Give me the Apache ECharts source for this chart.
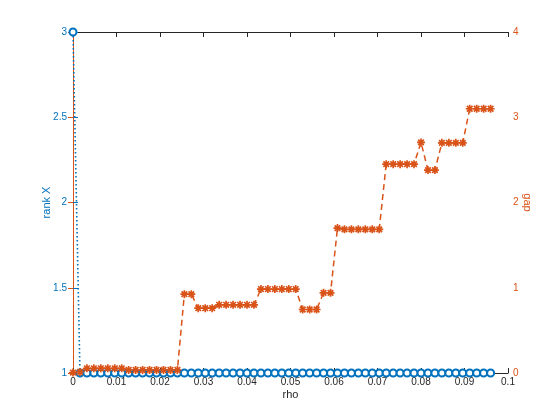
<!DOCTYPE html>
<html>
<head>
<meta charset="utf-8">
<script src="https://cdn.jsdelivr.net/npm/echarts@6/dist/echarts.min.js"></script>
<style>
html, body { margin: 0; padding: 0; background: #fff; }
#main { width: 560px; height: 420px; }
</style>
</head>
<body>
<div id="main"></div>
<script>
// rho values (x)
var rho = [0, 0.0016, 0.0032, 0.0048, 0.0064, 0.008, 0.0096, 0.0112, 0.0128, 0.0144,
    0.016, 0.0176, 0.0192, 0.0208, 0.0224, 0.024, 0.0256, 0.0272, 0.0288, 0.0304,
    0.032, 0.0336, 0.0352, 0.0368, 0.0384, 0.04, 0.0416, 0.0432, 0.0448, 0.0464,
    0.048, 0.0496, 0.0512, 0.0528, 0.0544, 0.056, 0.0576, 0.0592, 0.0608, 0.0624,
    0.064, 0.0656, 0.0672, 0.0688, 0.0704, 0.072, 0.0736, 0.0752, 0.0768, 0.0784,
    0.08, 0.0816, 0.0832, 0.0848, 0.0864, 0.088, 0.0896, 0.0912, 0.0928, 0.0944,
    0.096];
// left axis: rank X
var rankX = [3, 1, 1, 1, 1, 1, 1, 1, 1, 1,
    1, 1, 1, 1, 1, 1, 1, 1, 1, 1,
    1, 1, 1, 1, 1, 1, 1, 1, 1, 1,
    1, 1, 1, 1, 1, 1, 1, 1, 1, 1,
    1, 1, 1, 1, 1, 1, 1, 1, 1, 1,
    1, 1, 1, 1, 1, 1, 1, 1, 1, 1,
    1];
// right axis: gap
var gap = [0.005, 0.012, 0.055, 0.055, 0.055, 0.055, 0.055, 0.055, 0.035, 0.035,
    0.035, 0.035, 0.035, 0.035, 0.035, 0.035, 0.925, 0.925, 0.76, 0.76,
    0.76, 0.8, 0.8, 0.8, 0.8, 0.8, 0.8, 0.985, 0.985, 0.985,
    0.985, 0.985, 0.985, 0.745, 0.745, 0.745, 0.94, 0.94, 1.7, 1.685,
    1.685, 1.685, 1.685, 1.685, 1.685, 2.45, 2.45, 2.45, 2.45, 2.45,
    2.705, 2.38, 2.38, 2.7, 2.7, 2.7, 2.7, 3.1, 3.1, 3.1,
    3.1];
var xTicks = ['0', '0.01', '0.02', '0.03', '0.04', '0.05', '0.06', '0.07', '0.08', '0.09', '0.1'];

var blue = '#0072BD';
var orange = '#D95319';
var dark = '#262626';
var font = 'Helvetica, "Liberation Sans", Arial, sans-serif';

var rankData = [];
var gapData = [];
for (var i = 0; i < rho.length; i++) {
    rankData.push([rho[i], rankX[i]]);
    gapData.push([rho[i], gap[i]]);
}

// asterisk marker, stroked only
var star = 'path://M5,0L5,10M0,5L10,5M1.5,1.5L8.5,8.5M1.5,8.5L8.5,1.5';

var myChart = echarts.init(document.getElementById('main'));
var option = {
    animation: false,
    grid: { left: 73, right: 52, top: 32, bottom: 47 },
    xAxis: [{
        type: 'value',
        min: 0, max: 0.1, interval: 0.01,
        name: 'rho', nameLocation: 'middle', nameGap: 16, nameMoveOverlap: false,
        nameTextStyle: { color: dark, fontSize: 11, fontFamily: font },
        axisLine: { lineStyle: { color: dark, width: 1 } },
        axisTick: { inside: true, length: 5, lineStyle: { color: dark } },
        axisLabel: {
            color: dark, fontSize: 10, fontFamily: font, margin: 4,
            formatter: function (v) { return xTicks[Math.round(v * 100)]; }
        },
        splitLine: { show: false }
    }, {
        type: 'value', position: 'top',
        min: 0, max: 0.1, interval: 0.01,
        axisLine: { lineStyle: { color: dark, width: 1 } },
        axisTick: { inside: true, length: 5, lineStyle: { color: dark } },
        axisLabel: { show: false },
        splitLine: { show: false }
    }],
    yAxis: [{
        type: 'value', position: 'left',
        min: 1, max: 3, interval: 0.5,
        name: 'rank X', nameLocation: 'middle', nameGap: 21, nameMoveOverlap: false,
        nameTextStyle: { color: blue, fontSize: 11, fontFamily: font },
        axisLine: { show: true, lineStyle: { color: blue, width: 1 } },
        axisTick: { show: true, inside: true, length: 5, lineStyle: { color: blue } },
        axisLabel: { color: blue, fontSize: 10, fontFamily: font, margin: 6 },
        splitLine: { show: false }
    }, {
        type: 'value', position: 'right',
        min: 0, max: 4, interval: 1,
        name: 'gap', nameLocation: 'middle', nameGap: 14, nameRotate: -90, nameMoveOverlap: false,
        nameTextStyle: { color: orange, fontSize: 11, fontFamily: font },
        axisLine: { show: true, lineStyle: { color: orange, width: 1 } },
        axisTick: { show: true, inside: true, length: 5, lineStyle: { color: orange } },
        axisLabel: { color: orange, fontSize: 10, fontFamily: font, margin: 5 },
        splitLine: { show: false }
    }],
    series: [{
        name: 'rank X',
        type: 'line',
        xAxisIndex: 0, yAxisIndex: 0,
        data: rankData,
        clip: false,
        symbol: 'emptyCircle', symbolSize: 7,
        itemStyle: { color: blue, borderWidth: 1.6 },
        lineStyle: { color: blue, width: 1.6, type: [1.6, 2.4] }
    }, {
        name: 'gap',
        type: 'line',
        xAxisIndex: 0, yAxisIndex: 1,
        data: gapData,
        clip: false,
        symbol: star, symbolSize: 8,
        itemStyle: { color: orange, borderColor: orange, borderWidth: 1.7, borderCap: 'butt', borderJoin: 'miter' },
        lineStyle: { color: orange, width: 1.5, type: [6, 4] }
    }]
};
myChart.setOption(option);
</script>
</body>
</html>
